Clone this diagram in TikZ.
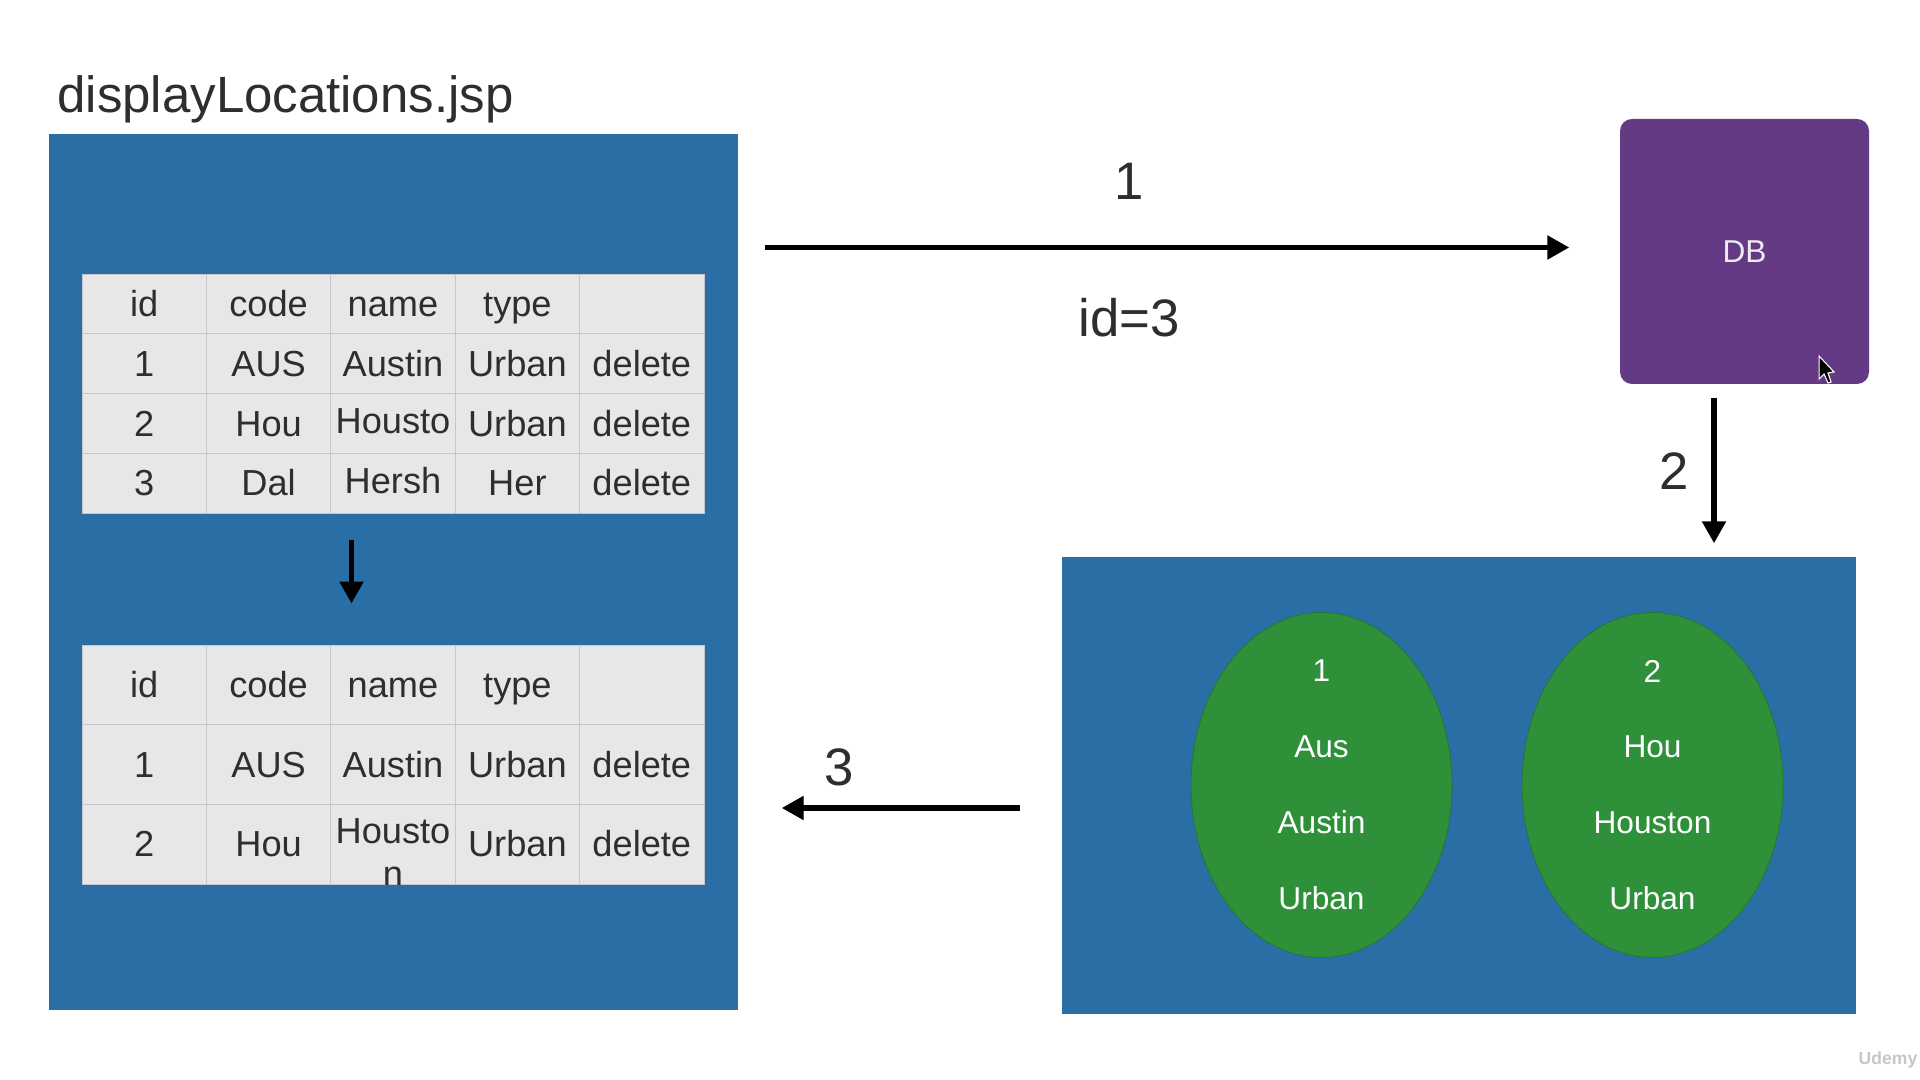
\documentclass[tikz,border=0pt]{standalone}
\usepackage{fontspec}
\setmainfont{Liberation Sans}
\usepackage{xcolor}
\usepackage{tikz}
\usetikzlibrary{arrows.meta}
\usetikzlibrary{shapes.geometric}

\definecolor{panelblue}{HTML}{2A6EA6}
\definecolor{leafgreen}{HTML}{2E913A}
\definecolor{dbpurple}{HTML}{643A85}
\definecolor{cellgrey}{HTML}{E7E7E8}
\definecolor{gridgrey}{HTML}{C6C6CC}
\definecolor{inkgrey}{HTML}{2E2E2E}

\tikzset{
	flow/.style={line width=1.5pt, -{Triangle[length=.22cm, width=.23cm]}},
	panel/.style={rectangle, fill=panelblue, inner sep=0pt},
	cellbox/.style={rectangle, draw=gridgrey, line width=.25pt, fill=cellgrey, inner sep=0pt,
		minimum width=1.244cm, text=inkgrey, font=\fontsize{10.3}{12}\selectfont,
		text height=9.3pt, text depth=2.1pt},
	record/.style={ellipse, fill=leafgreen, draw=leafgreen!80!black, line width=.2pt, inner xsep=0pt, inner ysep=-.04cm,
		minimum width=2.61cm, minimum height=3.45cm, text=white, align=center,
		font=\fontsize{9}{21.6}\selectfont},
	biglabel/.style={text=inkgrey, font=\fontsize{15}{17}\selectfont},
}

\begin{document}
\begin{tikzpicture}
	\useasboundingbox (0, 0) rectangle (19.2, 10.8);
	\fill[white] (0, 0) rectangle (19.2, 10.8);

	\node[anchor=base west, text=inkgrey, font=\fontsize{14.5}{17}\selectfont] (title) at (.45, 9.67) {displayLocations.jsp};

	\node[panel, minimum width=6.89cm, minimum height=8.765cm] (jsppanel) at (3.935, 5.08) {};
	\node[panel, minimum width=7.94cm, minimum height=4.57cm] (listpanel) at (14.59, 2.945) {};
	\node[rectangle, rounded corners=.12cm, fill=dbpurple, text=white!90!dbpurple, minimum width=2.49cm, minimum height=2.65cm,
		font=\fontsize{9}{11}\selectfont] (dbbox) at (17.445, 8.285) {DB};

	% table before the delete
	\foreach \Row [count=\RowNo] in {%
{id,code,name,type,\null},%
{1,AUS,Austin,Urban,delete},%
{2,Hou,\raisebox{.7pt}{Housto},Urban,delete},%
{3,Dal,\raisebox{.7pt}{Hersh},Her,delete}%
	}{
		\foreach \Cell [count=\ColNo] in \Row {
			\node[cellbox, minimum height=.5975cm] (upper-\RowNo-\ColNo) at ({.82+1.244*(\ColNo-.5)}, {8.06-.5975*(\RowNo-.5)}) {\Cell};
		};
	};

	% table after the delete
	\foreach \Row [count=\RowNo] in {%
{id,code,name,type,\null},%
{1,AUS,Austin,Urban,delete},%
{2,Hou,\null,Urban,delete}%
	}{
		\foreach \Cell [count=\ColNo] in \Row {
			\node[cellbox, minimum height=.7967cm] (lower-\RowNo-\ColNo) at ({.82+1.244*(\ColNo-.5)}, {4.35-.7967*(\RowNo-.5)}) {\Cell};
		};
	};
	\begin{scope}
		\clip (lower-3-3.south west) rectangle (lower-3-3.north east);
		\node[anchor=north, align=center, text=inkgrey, inner sep=0pt, font=\fontsize{10.3}{12.2}\selectfont] (wrapped) at (lower-3-3.north) {\rule{0pt}{11.2pt}Housto\\n};
	\end{scope}

	\node[record] (recordone) at (13.215, 2.95) {1\\Aus\\Austin\\Urban};
	\node[record] (recordtwo) at (16.525, 2.95) {2\\Hou\\Houston\\Urban};

	\coordinate (oneline) at (7.64, 8.325);
	\coordinate (twoline) at (17.14, 6.09);
	\coordinate (threeline) at (8.39, 2.72);
	\coordinate (innerline) at (3.515, 4.7);

	\draw[flow, shorten <=.26cm, shorten >=.5cm] (jsppanel.east |- oneline) -- (dbbox.west |- oneline);
	\draw[flow, shorten <=.13cm, shorten >=.13cm] (dbbox.south -| twoline) -- (listpanel.north -| twoline);
	\draw[flow, shorten <=.41cm, shorten >=.43cm] (listpanel.west |- threeline) -- (jsppanel.east |- threeline);
	\draw[flow, shorten <=.27cm, shorten >=.41cm] (upper-4-3.south -| innerline) -- (lower-1-3.north -| innerline);

	\node[biglabel] (labelone) at (11.29, 8.99) {1};
	\node[biglabel] (labelid) at (11.29, 7.62) {id=3};
	\node[biglabel] (labeltwo) at (16.74, 6.09) {2};
	\node[biglabel] (labelthree) at (8.39, 3.13) {3};

	% mouse pointer and watermark
	\filldraw[fill=black, draw=white, line width=.3pt] (18.19, 7.24) -- (18.19, 7.01) -- (18.24, 7.06) -- (18.28, 6.97) -- (18.31, 6.98) -- (18.28, 7.07) -- (18.34, 7.08) -- cycle;
	\node[text=gray!45, font=\fontsize{5}{6}\selectfont\bfseries] (watermark) at (18.88, .2) {Udemy};
\end{tikzpicture}
\end{document}
